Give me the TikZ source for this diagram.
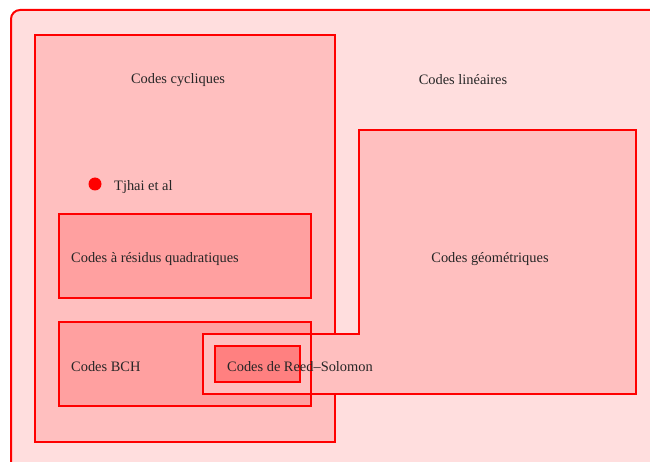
\documentclass[tikz,border=0pt]{standalone}
\usepackage{fontspec}
\setmainfont{Liberation Serif}
\definecolor{bgpink}{HTML}{FFDEDE}
\definecolor{lightred}{HTML}{FFBFBF}
\definecolor{midred}{HTML}{FFA0A0}
\definecolor{darkred}{HTML}{FF8080}
\begin{document}
\begin{tikzpicture}[x=1pt,y=-1pt,
  setbox/.style={draw=red, line width=2pt, anchor=north west, inner sep=0pt, outer sep=0pt},
  lbl/.style={font=\fontsize{14.4}{16}\selectfont, inner sep=0pt, text=black!85}]
\useasboundingbox (0,0) rectangle (650,462);
\clip (0,0) rectangle (650,462);
% outer region: linear codes
\node[setbox, fill=bgpink, rounded corners=9pt, minimum width=680pt, minimum height=480pt] (lin) at (11,10) {};
% cyclic codes
\node[setbox, fill=lightred, minimum width=300pt, minimum height=407pt] (cyc) at (35,35) {};
% quadratic residue codes
\node[setbox, fill=midred, minimum width=252pt, minimum height=84pt] (qr) at (59,214) {};
% BCH codes
\node[setbox, fill=midred, minimum width=252pt, minimum height=84pt] (bch) at (59,322) {};
% geometric codes (L-shaped)
\draw[draw=red, line width=2pt, fill=lightred]
  (359,130) coordinate (g1) -- (636,130) coordinate (g2) -- (636,394) coordinate (g3)
  -- (203,394) coordinate (g4) -- (203,334) coordinate (g5) -- (359,334) coordinate (g6) -- cycle;
% BCH border over geometric region
\draw[draw=red, line width=2pt] (bch.north west) rectangle (bch.south east);
% Reed-Solomon codes
\node[setbox, fill=darkred, minimum width=85pt, minimum height=36pt] (rs) at (215,346) {};
% Tjhai dot
\fill[red] (95,184) circle (6.5pt) coordinate (dot);
% labels
\node[lbl] (tcyc) at (178,80) {Codes cycliques};
\node[lbl] (tlin) at (463,80) {Codes linéaires};
\node[lbl] (tgeo) at (490,259) {Codes géométriques};
\node[lbl, anchor=west] (tqr) at (71,259) {Codes à résidus quadratiques};
\node[lbl, anchor=west] (tbch) at (71,367) {Codes BCH};
\node[lbl, anchor=west] (trs) at (227,367) {Codes de Reed--Solomon};
\node[lbl, anchor=west] (tdot) at (114,187) {Tjhai et al};
\end{tikzpicture}
\end{document}
